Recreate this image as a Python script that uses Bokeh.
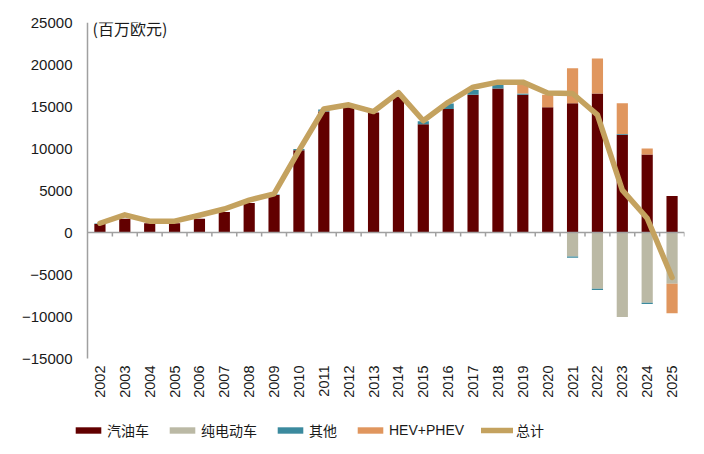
import math
from bokeh.plotting import figure
from bokeh.models import (Range1d, FixedTicker, Legend, LegendItem, Label,
                          ColumnDataSource)
from bokeh.core.properties import value
from bokeh.embed import file_html
from bokeh.resources import INLINE

years = list(range(2002, 2026))
gas = [1000, 1650, 1100, 1100, 1650, 2450, 3500, 4450, 9800, 14400, 14900, 14300,
       16200, 12900, 14700, 16400, 17150, 16400, 14900, 15400, 16550, 11650, 9300, 4350]
bev = [0, 0, 0, 0, 0, 0, 0, 0, 0, 0, 0, 0,
       0, 0, 0, 0, 0, 0, 0, -2850, -6700, -10070, -8350, -6100]
other = [80, 0, 0, 0, 0, 0, 0, 80, 150, 250, 0, 0,
         0, 350, 650, 550, 450, 150, 0, -150, -150, 80, -150, 0]
hev = [0, 0, 0, 0, 0, 0, 0, 0, 0, 0, 0, 0,
       0, 0, 0, 0, 0, 1300, 1500, 4150, 4150, 3650, 700, -3500]
total = [1100, 2100, 1350, 1350, 2050, 2800, 3850, 4600, 9750, 14700, 15200, 14400,
         16650, 13300, 15500, 17300, 17900, 17900, 16600, 16550, 14000, 5050, 1700, -5350]
year_labels = [str(y) for y in years]

names = ["汽油车", "纯电动车", "其他", "HEV+PHEV", "总计"]
colors = ["#620000", "#BBB9A5", "#3B8A9E", "#E0965E", "#C4A25F"]

LAT = "Liberation Sans, Noto Sans CJK SC"
CJK = "Noto Sans CJK SC"
AXIS_GREY = "#a0a0a0"

YMIN, YMAX = -15000, 25000
PLOT_H = 336          # pixel height of the value span YMIN..YMAX
PLOT_W = 597          # pixel width of the category span
EXTRA_LEFT = 15       # room left of the y axis line (for legend start)
TOP, FIG_H, FIG_W, RIGHT = 22, 450, 700, 16
u = (YMAX - YMIN) / PLOT_H                 # data units per pixel (y)
n = len(years)
cw = PLOT_W / n                            # pixels per category
frame_h = FIG_H - TOP
y_lo = YMIN - (frame_h - PLOT_H) * u
x_lo = -0.5 - EXTRA_LEFT / cw

p = figure(width=FIG_W, height=FIG_H, output_backend="svg", toolbar_location=None,
           x_range=Range1d(x_lo, n - 0.5), y_range=Range1d(y_lo, YMAX),
           x_axis_location=None,
           min_border_left=87 - EXTRA_LEFT, min_border_right=RIGHT,
           min_border_top=TOP, min_border_bottom=0)
p.outline_line_color = None
p.grid.grid_line_color = None
p.background_fill_color = "white"

idx = list(range(n))

# stacked bars (positive and negative stacks separately)
pos = [0.0] * n
neg = [0.0] * n
renderers = []
for series, col in zip([gas, bev, other, hev], colors[:4]):
    bottoms, tops = [], []
    for i, v in enumerate(series):
        if v >= 0:
            bottoms.append(pos[i]); tops.append(pos[i] + v); pos[i] += v
        else:
            bottoms.append(neg[i]); tops.append(neg[i] + v); neg[i] += v
    src = ColumnDataSource(dict(x=idx, b=bottoms, t=tops))
    r = p.vbar(x="x", bottom="b", top="t", width=0.45, source=src,
               fill_color=col, line_color=None)
    renderers.append(r)

# y axis line (value span only)
p.segment(x0=[-0.5], x1=[-0.5], y0=[YMIN], y1=[YMAX],
          line_color=AXIS_GREY, line_width=1.5)
# zero category axis with ticks between categories
p.segment(x0=[-0.5], x1=[n - 0.5], y0=[0], y1=[0],
          line_color=AXIS_GREY, line_width=1.5)
bx = [i + 0.5 for i in idx]
p.segment(x0=bx, x1=bx, y0=[0] * n, y1=[-4 * u] * n,
          line_color=AXIS_GREY, line_width=1.5)

lr = p.line(x=idx, y=total, line_width=5.5, line_color=colors[4],
            line_join="round", line_cap="round")
renderers.append(lr)

# category labels, rotated, under the value span
p.text(x=idx, y=[YMIN - 7 * u] * n, text=year_labels, angle=math.pi / 2,
       text_align="right", text_baseline="middle", text_font=value(LAT),
       text_font_size="14.5px", text_color="#1a1a1a")

# value axis labels
ya = p.yaxis[0]
ya.ticker = FixedTicker(ticks=list(range(YMIN, YMAX + 1, 5000)))
ya.axis_line_color = None
ya.major_tick_line_color = None
ya.minor_tick_line_color = None
ya.major_tick_out = 0
ya.major_tick_in = 0
ya.major_label_standoff = 0
ya.major_label_text_font = LAT
ya.major_label_text_font_size = "15px"
ya.major_label_text_color = "#1a1a1a"

p.add_layout(Label(x=-0.3, y=24400, text="(百万欧元)", text_font=CJK,
                   text_font_size="16px", text_color="#1a1a1a",
                   text_baseline="middle", text_align="left"))

items = [LegendItem(label=nm, renderers=[r]) for nm, r in zip(names, renderers)]
legend = Legend(items=items, orientation="horizontal", location=(0, 10),
                glyph_width=32, glyph_height=8, label_standoff=3, spacing=17,
                padding=0, margin=0, border_line_color=None,
                background_fill_alpha=0, label_text_font=LAT,
                label_text_font_size="14px", label_text_color="#1a1a1a",
                label_height=16)
p.add_layout(legend)

open("out.html", "w").write(file_html(p, INLINE))
